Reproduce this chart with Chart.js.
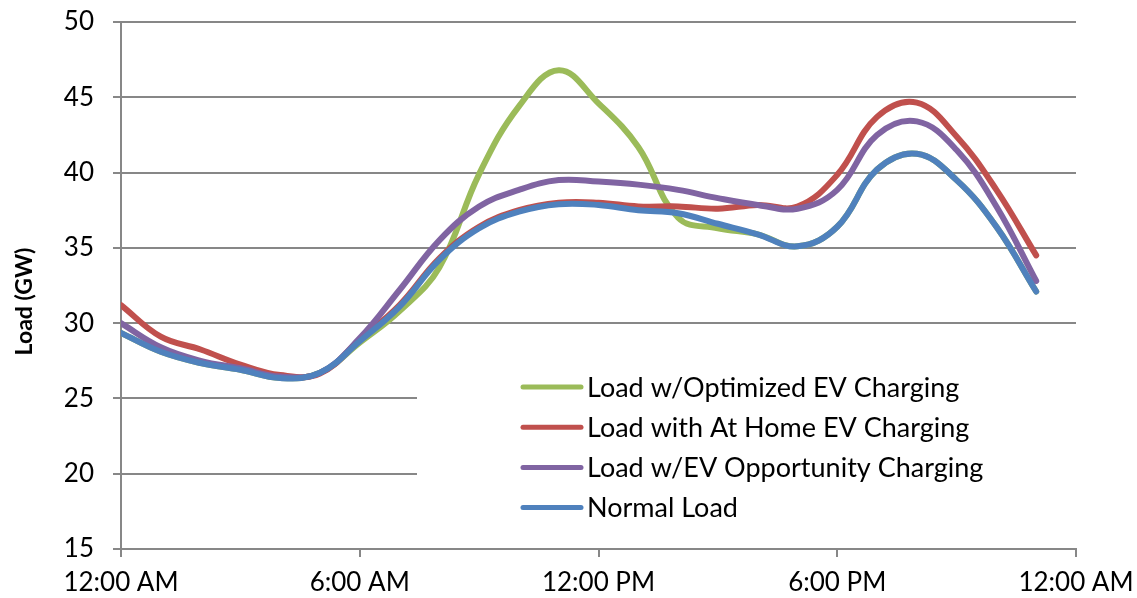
<!DOCTYPE html>
<html>
<head>
<meta charset="utf-8">
<script src="https://cdn.jsdelivr.net/npm/chart.js@4"></script>
<style>
  body { margin: 0; background: #ffffff; }
</style>
</head>
<body>
<canvas id="cargaChart" width="1137" height="598"></canvas>
<script>
// Horas do dia (0 = meia-noite), um ponto por hora
const horas = [0, 1, 2, 3, 4, 5, 6, 7, 8, 9, 10, 11, 12, 13, 14, 15, 16, 17, 18, 19, 20, 21, 22, 23];

// Rótulos do eixo X a cada 6 horas
const rotulosEixoX = ['12:00 AM', '6:00 AM', '12:00 PM', '6:00 PM', '12:00 AM'];

// Carga em GW para cada cenário
const cargaOtimizada = [29.35, 28.1, 27.35, 26.9, 26.35, 26.7, 28.7, 30.8, 33.7, 39.9, 44.4, 46.8, 44.6, 41.7, 37.0, 36.3, 35.9, 35.1, 36.4, 40.2, 41.25, 39.5, 36.4, 32.1];
const cargaEmCasa = [31.2, 29.1, 28.25, 27.25, 26.55, 26.65, 28.9, 31.2, 34.3, 36.4, 37.5, 38.0, 38.0, 37.75, 37.75, 37.6, 37.85, 37.75, 39.85, 43.7, 44.65, 42.4, 38.85, 34.5];
const cargaOportunidade = [30.0, 28.4, 27.5, 27.0, 26.45, 26.7, 29.0, 32.2, 35.5, 37.75, 38.85, 39.5, 39.4, 39.2, 38.85, 38.3, 37.85, 37.6, 38.85, 42.5, 43.4, 41.5, 37.75, 32.8];
const cargaNormal = [29.35, 28.1, 27.35, 26.9, 26.35, 26.7, 28.8, 31.1, 34.2, 36.3, 37.4, 37.9, 37.85, 37.5, 37.3, 36.6, 35.9, 35.1, 36.4, 40.2, 41.25, 39.5, 36.4, 32.1];

const nomesSeries = ['Load w/Optimized EV Charging', 'Load with At Home EV Charging', 'Load w/EV Opportunity Charging', 'Normal Load'];
const coresSeries = ['#9bbb59', '#c0504d', '#8064a2', '#4f81bd'];
const tituloEixoY = 'Load (GW)';

const fonte = 'Lato, "Open Sans", sans-serif';
const cinza = '#878787';

// Junta horas e valores no formato {x, y}
function pontos(valores) {
    return horas.map((h, i) => ({ x: h, y: valores[i] }));
}

// Legenda desenhada dentro da área do gráfico (fundo branco) + título do eixo Y
const legendaInterna = {
    id: 'legendaInterna',
    afterDraw(chart) {
        const ctx = chart.ctx;
        const area = chart.chartArea;
        ctx.save();
        ctx.fillStyle = '#ffffff';
        ctx.fillRect(417, 352, area.right - 417 + 2, 182);

        chart.data.datasets.forEach((ds, i) => {
            const y = 387 + i * 40.2;
            ctx.strokeStyle = ds.borderColor;
            ctx.lineWidth = 5;
            ctx.lineCap = 'round';
            ctx.beginPath();
            ctx.moveTo(523, y);
            ctx.lineTo(581, y);
            ctx.stroke();

            ctx.fillStyle = '#000000';
            ctx.font = '27px ' + fonte;
            ctx.textBaseline = 'middle';
            ctx.textAlign = 'left';
            ctx.fillText(ds.label, 587, y + 1);
        });

        // título vertical do eixo Y
        ctx.translate(25, (area.top + area.bottom) / 2 + 16);
        ctx.rotate(-Math.PI / 2);
        ctx.fillStyle = '#000000';
        ctx.font = 'bold 23px ' + fonte;
        ctx.textAlign = 'center';
        ctx.textBaseline = 'middle';
        ctx.fillText(tituloEixoY, 0, 0);
        ctx.restore();
    }
};

const ctx = document.getElementById('cargaChart').getContext('2d');

new Chart(ctx, {
    type: 'line',
    data: {
        datasets: [
            { label: nomesSeries[0], data: pontos(cargaOtimizada), borderColor: coresSeries[0], order: 4 },
            { label: nomesSeries[1], data: pontos(cargaEmCasa), borderColor: coresSeries[1], order: 3 },
            { label: nomesSeries[2], data: pontos(cargaOportunidade), borderColor: coresSeries[2], order: 2 },
            { label: nomesSeries[3], data: pontos(cargaNormal), borderColor: coresSeries[3], order: 1 }
        ]
    },
    options: {
        responsive: false,
        animation: false,
        datasets: {
            line: {
                borderWidth: 6,
                tension: 0.4,
                pointRadius: 0,
                fill: false,
                borderCapStyle: 'round',
                borderJoinStyle: 'round'
            }
        },
        layout: {
            padding: { top: 22, right: 61, left: 0, bottom: 0 }
        },
        plugins: {
            legend: { display: false },
            tooltip: { enabled: false }
        },
        scales: {
            x: {
                type: 'linear',
                min: 0,
                max: 24,
                afterFit: (escala) => {
                    escala.height = 49;
                    escala.paddingLeft = 0;
                    escala.paddingRight = 0;
                },
                afterBuildTicks: (escala) => {
                    escala.ticks = rotulosEixoX.map((_, i) => ({ value: i * 6 }));
                },
                ticks: {
                    stepSize: 6,
                    color: '#000000',
                    padding: 10,
                    maxRotation: 0,
                    font: { family: fonte, size: 26 },
                    callback: (valor) => rotulosEixoX[valor / 6]
                },
                grid: {
                    drawOnChartArea: false,
                    drawTicks: true,
                    tickLength: 8,
                    color: cinza,
                    lineWidth: 2
                },
                border: { color: cinza, width: 2 }
            },
            y: {
                min: 15,
                max: 50,
                afterFit: (escala) => {
                    escala.width = 121;
                    escala.paddingTop = 0;
                    escala.paddingBottom = 0;
                },
                ticks: {
                    stepSize: 5,
                    color: '#000000',
                    padding: 19,
                    font: { family: fonte, size: 26 }
                },
                grid: {
                    color: cinza,
                    lineWidth: 2,
                    tickLength: 8
                },
                border: { color: cinza, width: 2 }
            }
        }
    },
    plugins: [legendaInterna]
});
</script>
</body>
</html>
